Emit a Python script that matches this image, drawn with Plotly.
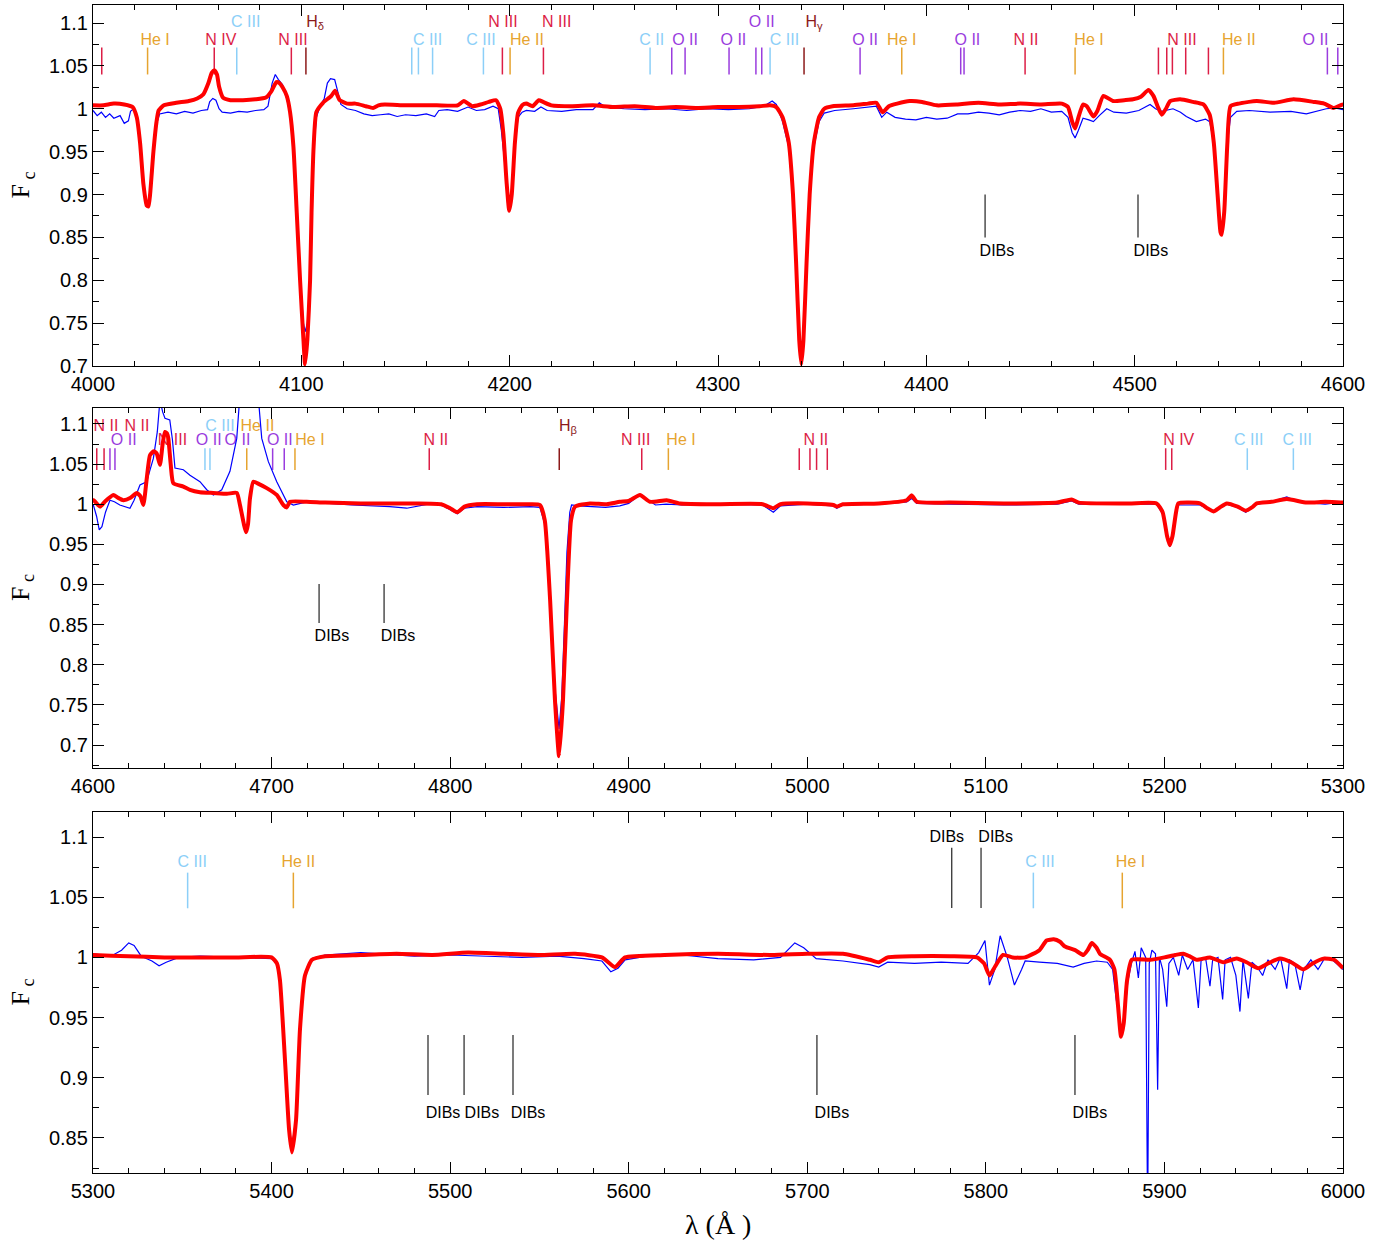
import plotly.graph_objects as go

# ---------------- spectra ----------------
model_wl = [4000, 4005, 4010, 4015, 4019, 4021, 4022.6, 4024.2, 4025.8, 4026.6, 4027.4, 4029, 4030.5, 4031.5, 4034,
            4040, 4046, 4050, 4053, 4055.4, 4057, 4058.2, 4059.5, 4060.5, 4062.4, 4066, 4072, 4078, 4083, 4085.5,
            4088, 4089.5, 4091, 4093, 4094.6, 4096.2, 4097.8, 4099.4, 4101, 4101.8, 4102.9, 4104.2, 4104.9, 4105.9,
            4107.2, 4110.4, 4114.4, 4116.2, 4118.4, 4122, 4126, 4131, 4134.4, 4137, 4140, 4150, 4165, 4175, 4178,
            4182, 4186, 4190, 4193.5, 4195.5, 4197, 4198.5, 4199.8, 4201, 4202.5, 4204, 4206, 4208, 4211, 4214,
            4216, 4220, 4230, 4240, 4250, 4260, 4270, 4280, 4290, 4300, 4310, 4320, 4325, 4328, 4331, 4334, 4336,
            4337.5, 4339, 4340, 4341, 4342.5, 4344, 4346, 4348.5, 4351, 4355, 4365, 4372, 4376, 4379, 4382, 4386,
            4392, 4398, 4405, 4415, 4425, 4435, 4445, 4455, 4465, 4468, 4470, 4471.4, 4473, 4475.2, 4477, 4480.2,
            4482, 4485, 4489.6, 4495, 4499.2, 4503, 4506.6, 4509, 4511, 4513, 4515, 4517, 4521.8, 4528, 4533,
            4536, 4538, 4539.8, 4541.2, 4541.8, 4543, 4544.5, 4546, 4550, 4558.6, 4567, 4576.2, 4586, 4591, 4595.4,
            4600.2, 4603.9, 4607, 4611.4, 4614, 4617, 4621, 4624.5, 4626.5, 4628.2, 4630, 4631.9, 4634, 4635.7,
            4637.5, 4639, 4640.3, 4641.5, 4642.2, 4643.5, 4645, 4650.6, 4654.3, 4659.9, 4667.4, 4675, 4680.5,
            4682.3, 4684.5, 4685.7, 4686.8, 4687.9, 4689.8, 4693, 4697.3, 4702.9, 4706.6, 4708.5, 4710.3, 4719.7,
            4730, 4750, 4780, 4795, 4800, 4804, 4808, 4815, 4830, 4845, 4850.3, 4853, 4856, 4858.7, 4861, 4863.2,
            4865.4, 4867.7, 4870, 4878.3, 4887.7, 4895, 4900, 4906.3, 4911.9, 4921.3, 4928.7, 4950, 4975, 4981,
            4985, 5000, 5014.6, 5016.5, 5020, 5040, 5055.7, 5058.5, 5061.3, 5080, 5110, 5140, 5148, 5152, 5180,
            5195.6, 5199, 5201.5, 5203, 5204.5, 5206.5, 5207.8, 5219.9, 5224, 5227.4, 5231, 5234.9, 5241, 5245.5,
            5249, 5251.7, 5260, 5268.5, 5279.7, 5290, 5300, 5320, 5340, 5360, 5380, 5400, 5403, 5404.7, 5407.5,
            5409.8, 5411.4, 5413.7, 5415.9, 5418.7, 5422.6, 5430, 5450, 5470, 5490, 5510, 5530, 5550, 5570, 5585,
            5592.3, 5598, 5620, 5650, 5680, 5700, 5720, 5735, 5740, 5745, 5760, 5780, 5795, 5799, 5802, 5805,
            5809.6, 5815, 5822, 5830, 5834, 5838, 5841.5, 5844.3, 5850, 5854.6, 5857, 5859.3, 5862, 5863.9, 5869.5,
            5872, 5874, 5875.7, 5877.2, 5879, 5881.7, 5891.9, 5900, 5906, 5910.6, 5914, 5918.1, 5925.5, 5933,
            5940.4, 5946, 5952.6, 5958, 5964.7, 5971, 5977.8, 5983, 5989, 5995, 6000]
model_fc = [1.004, 1.004, 1.006, 1.005, 1.002, 0.990, 0.960, 0.912, 0.887, 0.886, 0.900, 0.950, 0.985, 0.998, 1.004,
            1.007, 1.009, 1.012, 1.017, 1.030, 1.042, 1.045, 1.040, 1.026, 1.013, 1.010, 1.010, 1.011, 1.013, 1.020,
            1.031, 1.030, 1.025, 1.015, 0.996, 0.956, 0.879, 0.800, 0.731, 0.702, 0.731, 0.800, 0.879, 0.956,
            0.996, 1.007, 1.015, 1.021, 1.010, 1.006, 1.006, 1.003, 1.001, 1.004, 1.005, 1.004, 1.004, 1.004, 1.009,
            1.003, 1.005, 1.008, 1.010, 1.000, 0.970, 0.915, 0.881, 0.900, 0.960, 0.995, 1.004, 1.006, 1.003, 1.010,
            1.008, 1.004, 1.003, 1.004, 1.002, 1.003, 1.001, 1.002, 1.001, 1.002, 1.002, 1.003, 1.004, 1.002, 0.990, 0.960, 0.900,
            0.820, 0.730, 0.702, 0.730, 0.820, 0.900, 0.960, 0.990, 1.000, 1.003, 1.004, 1.006, 1.007, 0.996, 1.003, 1.006,
            1.009, 1.008, 1.004, 1.005, 1.007, 1.005, 1.006, 1.005, 1.006, 1.002, 0.985, 0.977, 0.990, 1.005, 1.003, 0.991,
            0.997, 1.015, 1.009, 1.010, 1.011, 1.014, 1.022, 1.015, 1.003, 0.993, 1.000, 1.009, 1.011, 1.008, 1.005,
            0.993, 0.960, 0.900, 0.856, 0.853, 0.880, 0.960, 1.003, 1.006, 1.009, 1.007, 1.011, 1.008, 1.006, 1.001,
            1.005, 0.997, 1.004, 1.0115, 1.008, 1.005, 1.008, 1.014, 1.010, 0.999, 1.030, 1.061, 1.066, 1.063,
            1.049, 1.075, 1.090, 1.088, 1.082, 1.050, 1.026, 1.022, 1.018, 1.015, 1.014, 1.013, 1.014,
            0.999, 0.975, 0.965, 0.975, 1.007, 1.028, 1.025, 1.020, 1.0115, 0.999, 0.996, 1.003, 1.003,
            1.002, 1.001, 1.001, 1.000, 0.995, 0.990, 0.997, 1.000, 1.000, 1.000, 0.999, 0.980, 0.880, 0.756, 0.686, 0.756,
            0.880, 0.980, 0.997, 1.001, 1.000, 1.003, 1.004, 1.0115, 1.003, 1.005, 1.001, 1.000, 1.000, 0.995,
            1.000, 1.001, 0.999, 0.997, 1.000, 1.001, 1.005, 1.011, 1.003, 1.002, 1.001, 1.002, 1.006, 1.002, 1.001,
            1.001, 0.990, 0.960, 0.949, 0.960, 0.990, 1.001, 1.001, 0.995, 0.991, 0.996, 1.001, 0.997, 0.992,
            0.996, 1.001, 1.003, 1.0065, 1.002, 1.003, 1.002, 1.001, 1.000, 1.000, 1.000, 1.000, 0.995, 0.981, 0.915,
            0.857, 0.838, 0.865, 0.940, 0.985, 0.998, 1.001, 1.002, 1.003, 1.002, 1.004, 1.003, 1.002, 1.003, 1.000,
            0.992, 1.000, 1.002, 1.003, 1.002, 1.003, 1.003, 0.998, 0.996, 1.000, 1.001, 1.001, 1.000, 0.995, 0.985, 0.992,
            1.002, 1.000, 1.000, 1.006, 1.014, 1.015, 1.013, 1.009, 1.006, 1.002, 1.006, 1.012, 1.008, 1.003, 0.998,
            0.990, 0.960, 0.934, 0.945, 0.980, 0.998, 0.998, 1.000, 1.002, 1.003, 1.001, 0.998, 1.000, 0.996,
            0.999, 0.996, 0.991, 0.995, 0.999, 0.996, 0.990, 0.995, 0.999, 0.998, 0.991]

obs_wl = [4000, 4002, 4004, 4006, 4008, 4010, 4013, 4015, 4017, 4018, 4019.5, 4021, 4022.6, 4024.2, 4025.8, 4026.6,
          4027.4, 4029, 4030.5, 4032, 4036, 4040, 4044, 4048, 4052, 4055, 4056, 4057.5, 4059, 4060.5, 4062, 4066,
          4070, 4074, 4078, 4082, 4084, 4086, 4087.5, 4089, 4091, 4093, 4094.6, 4096.2, 4097.8, 4099.4, 4101,
          4101.8, 4102.9, 4104.2, 4104.9, 4105.9, 4107.2, 4109, 4111, 4112.5, 4114, 4116, 4117.5, 4119, 4122,
          4126, 4130, 4134, 4138, 4142, 4146, 4150, 4155, 4160, 4164, 4166, 4170, 4175, 4180, 4184, 4188, 4192,
          4194.5, 4196, 4197.5, 4199, 4199.8, 4201, 4202.5, 4204, 4206, 4208, 4212, 4215, 4218, 4225, 4232, 4240,
          4243, 4246, 4255, 4265, 4275, 4285, 4295, 4305, 4315, 4322, 4326, 4328, 4331, 4334, 4336, 4337.5, 4339,
          4340, 4341, 4342.5, 4344, 4346, 4348.5, 4351, 4356, 4365, 4372, 4376, 4378.6, 4381, 4385, 4390, 4395,
          4400, 4405, 4410, 4415, 4420, 4425, 4430, 4435, 4440, 4445, 4450, 4455, 4460, 4465, 4468, 4470, 4471.4,
          4473, 4475.2, 4478, 4480.2, 4483, 4486.6, 4490, 4496, 4502, 4507.4, 4510, 4513, 4518.4, 4522, 4524.8,
          4529.6, 4534, 4536, 4538, 4539.8, 4541.2, 4541.8, 4543, 4544.5, 4546, 4549, 4555, 4565, 4575, 4582.4,
          4588, 4592, 4596,
          4600.2, 4602, 4603.5, 4605, 4607, 4609.5, 4612, 4615, 4618, 4620.7, 4623, 4626.3, 4630, 4633.8, 4636,
          4637.5, 4639, 4640.3, 4643, 4644.5, 4645.9, 4650.6, 4654.3, 4659.9, 4663.7, 4667.4, 4672.1, 4676.7,
          4680.5, 4682.3, 4686, 4690, 4692.6, 4694.5, 4698.2, 4702.9, 4708.5, 4712.2, 4719.7, 4730, 4745, 4766.3,
          4775.7, 4790, 4796, 4800, 4804, 4808, 4815, 4830, 4845, 4850.3, 4853, 4856, 4858.7, 4861, 4862.5, 4864,
          4865.4, 4867, 4868, 4872, 4878, 4887, 4895, 4900, 4906.3, 4910, 4915, 4921, 4930, 4950, 4975, 4981,
          4985, 5000, 5014.6, 5016.5, 5020, 5040, 5055.7, 5058.5, 5061.3, 5080, 5110, 5140, 5148, 5152, 5180,
          5195.6, 5199, 5201.5, 5203, 5204.5, 5206.5, 5207.8, 5219.9, 5224, 5227.4, 5231, 5234.9, 5241, 5245.5,
          5249, 5251.7, 5260, 5268.5, 5275, 5290,
          5300, 5310, 5316, 5320, 5323, 5327, 5333, 5337, 5341, 5348, 5360, 5380, 5400, 5403, 5404.7, 5407.5,
          5409.8, 5411.4, 5413.7, 5415.9, 5418.7, 5422.6, 5430, 5450, 5460, 5480, 5500, 5520, 5540, 5560, 5575,
          5585, 5590, 5594, 5598, 5610, 5630, 5650, 5670, 5685, 5693, 5698, 5705, 5720, 5735, 5740, 5745, 5760,
          5775, 5790, 5796, 5799.5, 5802, 5805, 5808, 5812, 5816, 5820, 5822, 5830, 5840, 5848.9, 5855, 5862,
          5868, 5871, 5873, 5875.7, 5877.5, 5879.5, 5881.7, 5883.5, 5885.4, 5887, 5889.5, 5890.6, 5891.5, 5893,
          5895, 5896.2, 5897.2, 5899, 5901.3, 5902.5, 5905, 5908, 5910, 5913, 5916, 5919, 5920.5, 5923, 5925.5,
          5927, 5930, 5932.6, 5934, 5937, 5940, 5942.3, 5944, 5947, 5949, 5952, 5955, 5958, 5962, 5965, 5968.5,
          5970, 5973, 5976, 5978, 5982, 5986, 5990, 5994, 5997, 6000]
obs_fc = [0.998, 0.992, 0.996, 0.990, 0.994, 0.989, 0.992, 0.983, 0.986, 0.997, 1.000, 0.988, 0.960, 0.915, 0.890, 0.892,
          0.905, 0.950, 0.982, 0.994, 0.996, 0.994, 0.997, 0.995, 0.998, 0.999, 1.008, 1.012, 1.010, 1.000, 0.996, 0.995,
          0.997, 0.996, 0.998, 0.999, 1.003, 1.030, 1.040, 1.034, 1.028, 1.012, 0.993, 0.955, 0.880, 0.805, 0.750,
          0.740, 0.750, 0.800, 0.875, 0.950, 0.990, 1.003, 1.012, 1.030, 1.035, 1.034, 1.020, 1.005, 1.000,
          0.998, 0.994, 0.992, 0.993, 0.994, 0.991, 0.993, 0.992, 0.994, 0.991, 0.998, 0.999, 0.997, 1.002, 0.998, 0.999, 1.003,
          1.000, 0.975, 0.940, 0.890, 0.882, 0.895, 0.955, 0.990, 0.996, 0.998, 0.997, 1.002, 0.998, 0.997, 0.999, 0.999,
          1.007, 1.002, 1.000, 0.999, 1.000, 0.998, 1.000, 0.999, 1.000, 1.003, 1.009, 1.005, 0.985, 0.955, 0.895, 0.815, 0.740,
          0.720, 0.740, 0.820, 0.900, 0.955, 0.985, 0.995, 0.998, 1.000, 1.002, 1.003, 0.990, 0.996, 0.990, 0.988, 0.987,
          0.990, 0.988, 0.989, 0.994, 0.994, 0.996, 0.995, 0.993, 0.996, 0.998, 0.997, 1.000, 0.996, 0.997, 0.990, 0.972, 0.966,
          0.975, 0.989, 0.987, 0.985, 0.992, 1.000, 0.996, 0.995, 0.998, 1.005, 1.000, 0.997, 1.000, 0.996, 0.991,
          0.985, 0.988, 0.985, 0.960, 0.905, 0.862, 0.858, 0.885, 0.960, 0.990, 0.997, 0.998, 0.996, 0.997, 0.994,
          0.997, 1.000, 1.001,
          0.999, 0.985, 0.968, 0.972, 0.990, 1.005, 1.003, 0.999, 0.997, 0.995, 1.005, 1.024, 1.028, 1.057, 1.090,
          1.130, 1.115, 1.107, 1.105, 1.080, 1.045, 1.043, 1.036, 1.028, 1.018, 1.0115, 1.018, 1.041,
          1.082, 1.130, 1.250, 1.200, 1.130, 1.082, 1.053, 1.028, 1.003, 0.999, 1.003, 1.001, 0.999, 0.997,
          0.995, 1.001, 0.998, 0.993, 0.988, 0.995, 0.997, 0.996, 0.997, 0.996, 0.975, 0.875, 0.770, 0.720, 0.760, 0.850,
          0.940, 0.990, 0.999, 0.998, 0.997, 0.996, 0.998, 1.001, 1.012, 1.006, 0.999, 1.000, 0.999, 1.000, 0.999, 0.990,
          0.998, 1.000, 0.998, 0.995, 0.999, 1.000, 1.003, 1.007, 1.001, 1.000, 0.999, 1.000, 1.004, 1.000, 1.000,
          1.000, 0.988, 0.958, 0.947, 0.958, 0.990, 0.999, 0.999, 0.994, 0.990, 0.995, 1.000, 0.996, 0.990,
          0.995, 1.000, 1.003, 1.009, 1.003, 1.000,
          1.003, 1.001, 1.006, 1.012, 1.010, 1.001, 0.997, 0.993, 0.996, 1.000, 1.001, 1.000, 0.999, 0.995, 0.980, 0.918,
          0.860, 0.842, 0.868, 0.940, 0.984, 0.999, 1.002, 1.004, 1.003, 1.001, 1.002, 1.001, 1.000, 1.001, 0.999,
          0.997, 0.988, 0.991, 0.998, 1.001, 1.002, 0.999, 0.998, 1.000, 1.012, 1.008, 0.999, 0.997, 0.994, 0.992, 0.996, 0.995,
          0.996, 0.995, 1.004, 1.014, 0.977, 0.990, 1.018, 1.000, 0.977, 0.990, 0.997, 0.996, 0.995, 0.992, 0.995, 0.997,
          0.996, 0.990, 0.965, 0.941, 0.950, 0.980, 0.996, 1.005, 0.983, 1.008, 1.000, 0.780, 0.995, 1.006,
          1.003, 0.890, 1.000, 0.990, 0.959, 0.995, 1.000, 0.985, 1.002, 0.990, 0.998, 0.958, 0.997, 1.000, 0.976,
          0.998, 1.000, 0.965, 0.998, 1.000, 0.985, 0.955, 0.998, 0.966, 0.996, 0.992, 0.985, 0.998, 0.990, 1.000, 0.974,
          0.998, 0.995, 0.973, 0.990, 0.998, 0.990, 1.000, 0.998, 0.994, 0.990]

# ---------------- line identifications ----------------
p1_ident_wl = [4004.2, 4026.2, 4058.2, 4069.0, 4095.2, 4102.2, 4153.0, 4156.2, 4163.0, 4187.4, 4196.5, 4200.2,
               4216.2, 4267.4, 4277.8, 4284.2, 4305.3, 4318.2, 4321.0, 4325.0, 4341.3, 4368.2, 4388.2, 4416.5,
               4418.1, 4447.4, 4471.4, 4511.4, 4515.4, 4518.1, 4524.5, 4535.4, 4542.6, 4592.5, 4597.5]
p1_ident_el = ["N", "He", "N", "C", "N", "H", "C", "C", "C", "C", "N", "He",
               "N", "C", "O", "O", "O", "O", "O", "C", "H", "O", "He", "O",
               "O", "N", "He", "N", "N", "N", "N", "N", "He", "O", "O"]
p1_label_text = ["He I", "N IV", "C III", "N III", "H<sub>δ</sub>", "C III", "C III", "N III", "He II", "N III",
                 "C II", "O II", "O II", "O II", "C III", "H<sub>γ</sub>", "O II", "He I", "O II", "N II", "He I",
                 "N III", "He II", "O II"]
p1_label_wl = [4029.8, 4061.4, 4073.3, 4096.0, 4106.6, 4160.6, 4186.2, 4196.8, 4208.3, 4222.6,
               4268.2, 4284.2, 4307.4, 4321.0, 4331.9, 4346.1, 4370.6, 4388.2, 4419.7, 4447.8, 4478.1,
               4522.7, 4550.0, 4586.8]
p1_label_row = ["lo", "lo", "hi", "lo", "hi", "lo", "lo", "hi", "lo", "hi",
                "lo", "lo", "lo", "hi", "lo", "hi", "lo", "lo", "lo", "lo", "lo",
                "lo", "lo", "lo"]
p1_dib_wl = [4428.2, 4501.6]
p1_dib_label_wl = [4433.9, 4507.8]

p2_ident_wl = [4602.1, 4606.2, 4609.5, 4612.3, 4662.7, 4665.5, 4686.1, 4700.6, 4707.1, 4713.1, 4788.3, 4861.1,
               4907.3, 4922.2, 4995.5, 5001.5, 5005.2, 5011.2, 5200.7, 5204.1, 5246.4, 5272.2]
p2_ident_el = ["N", "N", "O", "O", "C", "C", "He", "O", "O", "He", "N", "H",
               "N", "He", "N", "N", "N", "N", "N", "N", "C", "C"]
p2_label_text = ["N II", "N II", "O II", "N III", "C III", "O II", "O II", "He II", "O II", "He I", "N II",
                 "H<sub>β</sub>", "N III", "He I", "N II", "N IV", "C III", "C III"]
p2_label_wl = [4607.3, 4624.6, 4617.2, 4644.5, 4671.1, 4664.8, 4680.9, 4692.1, 4704.6, 4721.5, 4792.0,
               4866.0, 4903.9, 4929.3, 5004.8, 5208.0, 5247.2, 5274.4]
p2_label_row = ["hi", "hi", "lo", "lo", "hi", "lo", "lo", "hi", "lo", "lo", "lo",
                "hi", "lo", "lo", "lo", "lo", "lo", "lo"]
p2_dib_wl = [4726.6, 4763.0]
p2_dib_label_wl = [4733.8, 4770.8]

p3_ident_wl = [5353.0, 5412.2, 5826.6, 5876.4]
p3_ident_el = ["C", "He", "C", "He"]
p3_label_text = ["C III", "He II", "C III", "He I"]
p3_label_wl = [5355.6, 5415.0, 5830.3, 5881.0]
p3_label_row = ["lo", "lo", "lo", "lo"]
p3_dib_top_wl = [5780.9, 5797.3]
p3_dib_top_label_wl = [5778.1, 5805.5]
p3_dib_wl = [5487.6, 5507.8, 5535.2, 5705.4, 5849.9]
p3_dib_label_wl = [5496.0, 5517.8, 5543.6, 5713.8, 5858.3]

# ---------------- styling ----------------
EL_COLOR = {"He": "#E6A430", "N": "#DC1E46", "C": "#8CCFF8", "O": "#9A3CDE", "H": "#8C1A1A"}
SANS = "Liberation Sans, Arial, sans-serif"
SERIF = "Liberation Serif, Times New Roman, serif"


def label_el(txt):
    head = txt.split(" ")[0]
    if head.startswith("H<"):
        return "H"
    return head


fig = go.Figure()

panels = [
    dict(xa="x", ya="y", ident_wl=p1_ident_wl, ident_el=p1_ident_el, lab_t=p1_label_text, lab_w=p1_label_wl,
         lab_r=p1_label_row, mark=(1.040, 1.0714), lo=1.0793, hi=1.1005,
         dibs=[(p1_dib_wl, p1_dib_label_wl, (0.850, 0.900), 0.8335)]),
    dict(xa="x2", ya="y2", ident_wl=p2_ident_wl, ident_el=p2_ident_el, lab_t=p2_label_text, lab_w=p2_label_wl,
         lab_r=p2_label_row, mark=(1.0427, 1.0697), lo=1.0785, hi=1.0965,
         dibs=[(p2_dib_wl, p2_dib_label_wl, (0.852, 0.9006), 0.8345)]),
    dict(xa="x3", ya="y3", ident_wl=p3_ident_wl, ident_el=p3_ident_el, lab_t=p3_label_text, lab_w=p3_label_wl,
         lab_r=p3_label_row, mark=(1.0408, 1.0704), lo=1.0780, hi=1.0975,
         dibs=[(p3_dib_top_wl, p3_dib_top_label_wl, (1.041, 1.091), 1.0995),
               (p3_dib_wl, p3_dib_label_wl, (0.8857, 0.9355), 0.8700)]),
]

for p in panels:
    # identification ticks, grouped by element
    for el, col in EL_COLOR.items():
        xs, ys = [], []
        for w, e in zip(p["ident_wl"], p["ident_el"]):
            if e == el:
                xs += [w, w, None]
                ys += [p["mark"][0], p["mark"][1], None]
        if xs:
            fig.add_trace(go.Scatter(x=xs, y=ys, mode="lines", line=dict(color=col, width=1.5),
                                     xaxis=p["xa"], yaxis=p["ya"], hoverinfo="skip", showlegend=False))
    # labels
    for el, col in EL_COLOR.items():
        tx, tw, ty = [], [], []
        for t, w, r in zip(p["lab_t"], p["lab_w"], p["lab_r"]):
            if label_el(t) == el:
                tx.append(t)
                tw.append(w)
                ty.append(p["hi"] if r == "hi" else p["lo"])
        if tx:
            fig.add_trace(go.Scatter(x=tw, y=ty, mode="text", text=tx, textposition="middle center",
                                     textfont=dict(family=SANS, size=16, color=col),
                                     xaxis=p["xa"], yaxis=p["ya"], hoverinfo="skip", showlegend=False))
    # DIBs
    for dwl, dlab, (d0, d1), dy in p["dibs"]:
        xs, ys = [], []
        for w in dwl:
            xs += [w, w, None]
            ys += [d0, d1, None]
        fig.add_trace(go.Scatter(x=xs, y=ys, mode="lines", line=dict(color="#222222", width=1.2),
                                 xaxis=p["xa"], yaxis=p["ya"], hoverinfo="skip", showlegend=False))
        fig.add_trace(go.Scatter(x=dlab, y=[dy] * len(dlab), mode="text", text=["DIBs"] * len(dlab),
                                 textposition="middle center",
                                 textfont=dict(family=SANS, size=16, color="black"),
                                 xaxis=p["xa"], yaxis=p["ya"], hoverinfo="skip", showlegend=False))
    # spectra
    fig.add_trace(go.Scatter(x=obs_wl, y=obs_fc, mode="lines", line=dict(color="#0000FF", width=1.2),
                             xaxis=p["xa"], yaxis=p["ya"], showlegend=False))
    fig.add_trace(go.Scatter(x=model_wl, y=model_fc, mode="lines",
                             line=dict(color="#FF0000", width=4, shape="spline", smoothing=0.5),
                             xaxis=p["xa"], yaxis=p["ya"], showlegend=False))


def xaxis(rng, anchor):
    return dict(range=rng, domain=[0, 1], anchor=anchor, showline=True, linecolor="black", linewidth=1.3,
                mirror="allticks", ticks="inside", ticklen=11, tickwidth=1.3, tickcolor="black",
                tick0=4000, dtick=100,
                minor=dict(dtick=20, ticks="inside", ticklen=5, tickwidth=1, tickcolor="black", showgrid=False),
                showgrid=False, zeroline=False,
                tickfont=dict(family=SANS, size=20, color="black"))


def yaxis(rng, dom, anchor):
    return dict(range=rng, domain=dom, anchor=anchor, showline=True, linecolor="black", linewidth=1.3,
                mirror="allticks", ticks="inside", ticklen=11, tickwidth=1.3, tickcolor="black",
                tick0=0.7, dtick=0.05, tickformat=".2~f",
                minor=dict(dtick=0.025, ticks="inside", ticklen=6, tickwidth=1, tickcolor="black", showgrid=False),
                showgrid=False, zeroline=False,
                tickfont=dict(family=SANS, size=20, color="black"))


dom1 = [0.6909, 1.0]
dom2 = [0.3467, 0.655]
dom3 = [0.0, 0.3091]

fig.update_layout(
    width=1386, height=1245,
    margin=dict(l=93, r=43, t=5, b=72),
    paper_bgcolor="white", plot_bgcolor="white",
    showlegend=False,
    xaxis=xaxis([4000, 4600], "y"),
    yaxis=yaxis([0.7, 1.121], dom1, "x"),
    xaxis2=xaxis([4600, 5300], "y2"),
    yaxis2=yaxis([0.6713, 1.1199], dom2, "x2"),
    xaxis3=xaxis([5300, 6000], "y3"),
    yaxis3=yaxis([0.8209, 1.1208], dom3, "x3"),
)

annots = []
for yc in [(dom1[0] + dom1[1]) / 2, (dom2[0] + dom2[1]) / 2, (dom3[0] + dom3[1]) / 2]:
    annots.append(dict(text="F<sub> c</sub>", xref="paper", yref="paper", x=-0.0568, y=yc,
                       xanchor="center", yanchor="middle", textangle=-90, showarrow=False,
                       font=dict(family=SERIF, size=26, color="black")))
annots.append(dict(text="λ (Å )", xref="paper", yref="paper", x=0.5, y=-0.0445,
                   xanchor="center", yanchor="middle", showarrow=False,
                   font=dict(family=SERIF, size=28, color="black")))
fig.update_layout(annotations=annots)

fig.write_html("out.html")
